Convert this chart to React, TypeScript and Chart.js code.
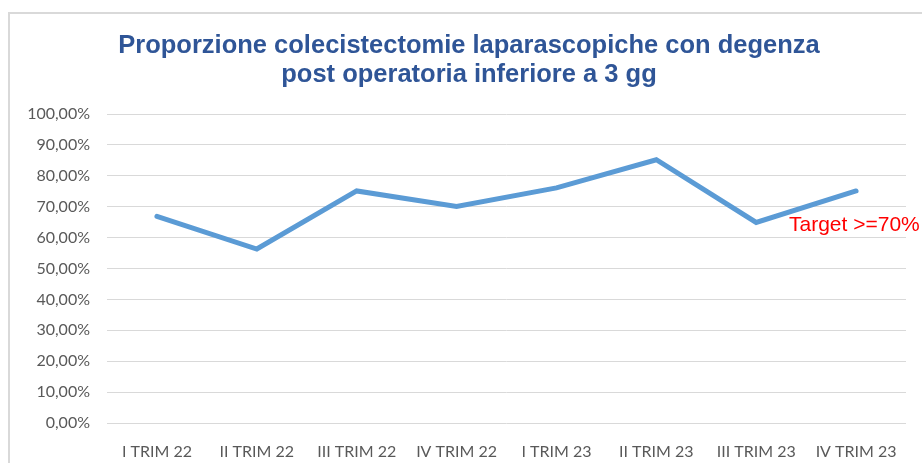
import React, { useEffect, useRef } from "react";
import { Chart, registerables } from "chart.js";

Chart.register(...registerables);

const categories = ["I TRIM 22", "II TRIM 22", "III TRIM 22", "IV TRIM 22", "I TRIM 23", "II TRIM 23", "III TRIM 23", "IV TRIM 23"];
const values = [66.9, 56.3, 75.1, 70.1, 76.1, 85.2, 64.9, 75.1];
const titleLines = ["Proporzione colecistectomie laparascopiche con degenza", "post operatoria inferiore a 3 gg"];
const targetLabel = "Target >=70%";
const yMin = 0;
const yMax = 100;
const yStep = 10;

const decor = {
  id: "decor",
  beforeDraw(chart: any) {
    const ctx = chart.ctx;
    ctx.save();
    ctx.fillStyle = "#ffffff";
    ctx.fillRect(0, 0, chart.width, chart.height);
    ctx.strokeStyle = "#d9d9d9";
    ctx.lineWidth = 2;
    ctx.beginPath();
    ctx.moveTo(9, chart.height);
    ctx.lineTo(9, 13);
    ctx.lineTo(chart.width, 13);
    ctx.stroke();
    ctx.restore();
  },
  afterDraw(chart: any) {
    const ctx = chart.ctx;
    ctx.save();
    ctx.fillStyle = "#2F5597";
    ctx.font = "bold 25.5px 'Liberation Sans', Arial, sans-serif";
    ctx.textAlign = "center";
    ctx.textBaseline = "alphabetic";
    ctx.fillText(titleLines[0], 469, 53);
    ctx.fillText(titleLines[1], 469, 82);
    ctx.fillStyle = "#FF0000";
    ctx.font = "21px 'Liberation Sans', Arial, sans-serif";
    ctx.textAlign = "left";
    ctx.textBaseline = "alphabetic";
    ctx.fillText(targetLabel, 789, 231);
    ctx.restore();
  },
};

export default function App() {
  const ref = useRef<HTMLCanvasElement>(null);
  useEffect(() => {
    const chart = new Chart(ref.current!, {
      type: "line",
      data: {
        labels: categories,
        datasets: [
          {
            data: values,
            borderColor: "#5B9BD5",
            backgroundColor: "#5B9BD5",
            borderWidth: 5,
            pointRadius: 0,
            tension: 0,
            borderCapStyle: "round",
            borderJoinStyle: "miter",
          },
        ],
      },
      options: {
        animation: false,
        responsive: false,
        devicePixelRatio: 1,
        layout: { padding: { top: 114, right: 16, left: 0, bottom: 0 } },
        plugins: { legend: { display: false }, title: { display: false }, tooltip: { enabled: false } },
        scales: {
          x: {
            offset: true,
            grid: { display: false, drawTicks: false },
            border: { display: false },
            ticks: { color: "#595959", font: { family: "Lato", size: 16 }, padding: 19, maxRotation: 0, autoSkip: false },
            afterFit: (s: any) => { s.height = 40; },
          },
          y: {
            min: yMin,
            max: yMax,
            grid: { color: "#d9d9d9", lineWidth: 1, drawTicks: false },
            border: { display: false },
            ticks: {
              stepSize: yStep,
              color: "#595959",
              font: { family: "Lato", size: 16 },
              padding: 17,
              callback: (v: any) => Number(v).toFixed(2).replace(".", ",") + "%",
            },
            afterFit: (s: any) => { s.width = 107; },
          },
        },
      },
      plugins: [decor],
    });
    return () => chart.destroy();
  }, []);
  return (
    <div style={{ position: "fixed", left: 0, top: 0, width: 922, height: 463 }}>
      <canvas ref={ref} width={922} height={463} style={{ width: 922, height: 463 }} />
    </div>
  );
}
